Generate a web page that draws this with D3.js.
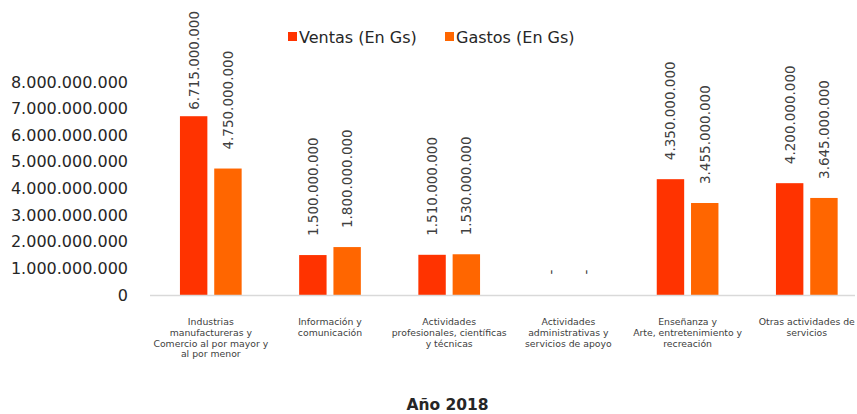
<!DOCTYPE html>
<html>
<head>
<meta charset="utf-8">
<script src="https://cdn.jsdelivr.net/npm/d3@7"></script>
<style>
body { margin: 0; background: #fff; }
text { font-family: "DejaVu Sans", Verdana, sans-serif; }
</style>
</head>
<body>
<div id="vis"></div>
<script>
var categories = [
    ['Industrias', 'manufactureras y', 'Comercio al por mayor y', 'al por menor'],
    ['Información y', 'comunicación'],
    ['Actividades', 'profesionales, científicas', 'y técnicas'],
    ['Actividades', 'administrativas y', 'servicios de apoyo'],
    ['Enseñanza y', 'Arte, entretenimiento y', 'recreación'],
    ['Otras actividades de', 'servicios']
];
var seriesNames = ['Ventas (En Gs)', 'Gastos (En Gs)'];
var ventas = [6715000000, 1500000000, 1510000000, 0, 4350000000, 4200000000];
var gastos = [4750000000, 1800000000, 1530000000, 0, 3455000000, 3645000000];
var yTicks = [0, 1e9, 2e9, 3e9, 4e9, 5e9, 6e9, 7e9, 8e9];
var colors = ['#ff3300', '#ff6600'];

var width = 857, height = 414;
var margin = {left: 151, right: 2, top: 82, bottom: 119};

var svg = d3.select('#vis').append('svg')
    .attr('width', width)
    .attr('height', height);

// the category step in the original is a bit wider than the axis line
var x = d3.scaleBand()
    .domain(d3.range(categories.length))
    .range([151.2, 151.2 + 6 * 119.2]);

var groupW = 61.7;
var xInner = d3.scaleBand()
    .domain([0, 1])
    .range([0, groupW])
    .paddingInner(0.2);

var y = d3.scaleLinear()
    .domain([0, 8e9])
    .range([height - margin.bottom, margin.top]);

function fmt(v)
{
    if (v === 0) return '-';
    return d3.format(',')(v).replace(/,/g, '.');
}

// y tick labels (no axis line)
svg.append('g')
    .selectAll('text')
    .data(yTicks)
    .enter().append('text')
    .attr('x', 128)
    .attr('y', function(d){ return y(d); })
    .attr('dy', '0.35em')
    .attr('text-anchor', 'end')
    .attr('font-size', 16)
    .attr('fill', '#262626')
    .text(function(d){ return d === 0 ? '0' : fmt(d); });

var data = [];
categories.forEach(function(c, i) {
    data.push({cat: i, s: 0, v: ventas[i]});
    data.push({cat: i, s: 1, v: gastos[i]});
});

function barX(d)
{
    return x(d.cat) + x.bandwidth() / 2 - groupW / 2 + xInner(d.s);
}

svg.append('g')
    .selectAll('rect')
    .data(data)
    .enter().append('rect')
    .attr('x', barX)
    .attr('y', function(d){ return y(d.v); })
    .attr('width', xInner.bandwidth())
    .attr('height', function(d){ return y(0) - y(d.v); })
    .attr('fill', function(d){ return colors[d.s]; });

// baseline
svg.append('line')
    .attr('x1', margin.left - 1)
    .attr('x2', width - margin.right)
    .attr('y1', y(0) + 0.5)
    .attr('y2', y(0) + 0.5)
    .attr('stroke', '#d9d9d9')
    .attr('stroke-width', 1.5);

// value labels, rotated; pushed down when they would leave the top
svg.append('g')
    .selectAll('text')
    .data(data)
    .enter().append('text')
    .attr('font-size', 13.5)
    .attr('fill', '#404040')
    .attr('text-anchor', function(d){ return d.v === 0 ? 'middle' : 'start'; })
    .text(function(d){ return fmt(d.v); })
    .attr('transform', function(d){
        var cx = barX(d) + xInner.bandwidth() / 2;
        var len = this.getComputedTextLength();
        var cy = d.v === 0 ? y(0) - 23 : Math.max(y(d.v) - 19, 11 + len);
        return 'translate(' + (cx + 5) + ',' + cy + ') rotate(-90)';
    });

// category labels
var catG = svg.append('g')
    .selectAll('text')
    .data(categories)
    .enter().append('text')
    .attr('text-anchor', 'middle')
    .attr('font-size', 9.3)
    .attr('fill', '#404040')
    .attr('x', function(d, i){ return x(i) + x.bandwidth() / 2; })
    .attr('y', 325);

catG.selectAll('tspan')
    .data(function(d){ return d; })
    .enter().append('tspan')
    .attr('x', function(){ return d3.select(this.parentNode).attr('x'); })
    .attr('dy', function(d, i){ return i === 0 ? 0 : 10.8; })
    .text(function(d){ return d; });

// legend
var legendX = [288, 445];
var legend = svg.append('g')
    .selectAll('g')
    .data(seriesNames)
    .enter().append('g')
    .attr('transform', function(d, i){ return 'translate(' + legendX[i] + ',32)'; });

legend.append('rect')
    .attr('width', 9)
    .attr('height', 9)
    .attr('fill', function(d, i){ return colors[i]; });

legend.append('text')
    .attr('x', 11)
    .attr('y', 5)
    .attr('dy', '0.35em')
    .attr('font-size', 16)
    .attr('fill', '#262626')
    .text(function(d){ return d; });

// title at the bottom
svg.append('text')
    .attr('x', 447.5)
    .attr('y', 410)
    .attr('text-anchor', 'middle')
    .attr('font-size', 15.5)
    .attr('font-weight', 'bold')
    .attr('fill', '#262626')
    .text('Año 2018');
</script>
</body>
</html>
